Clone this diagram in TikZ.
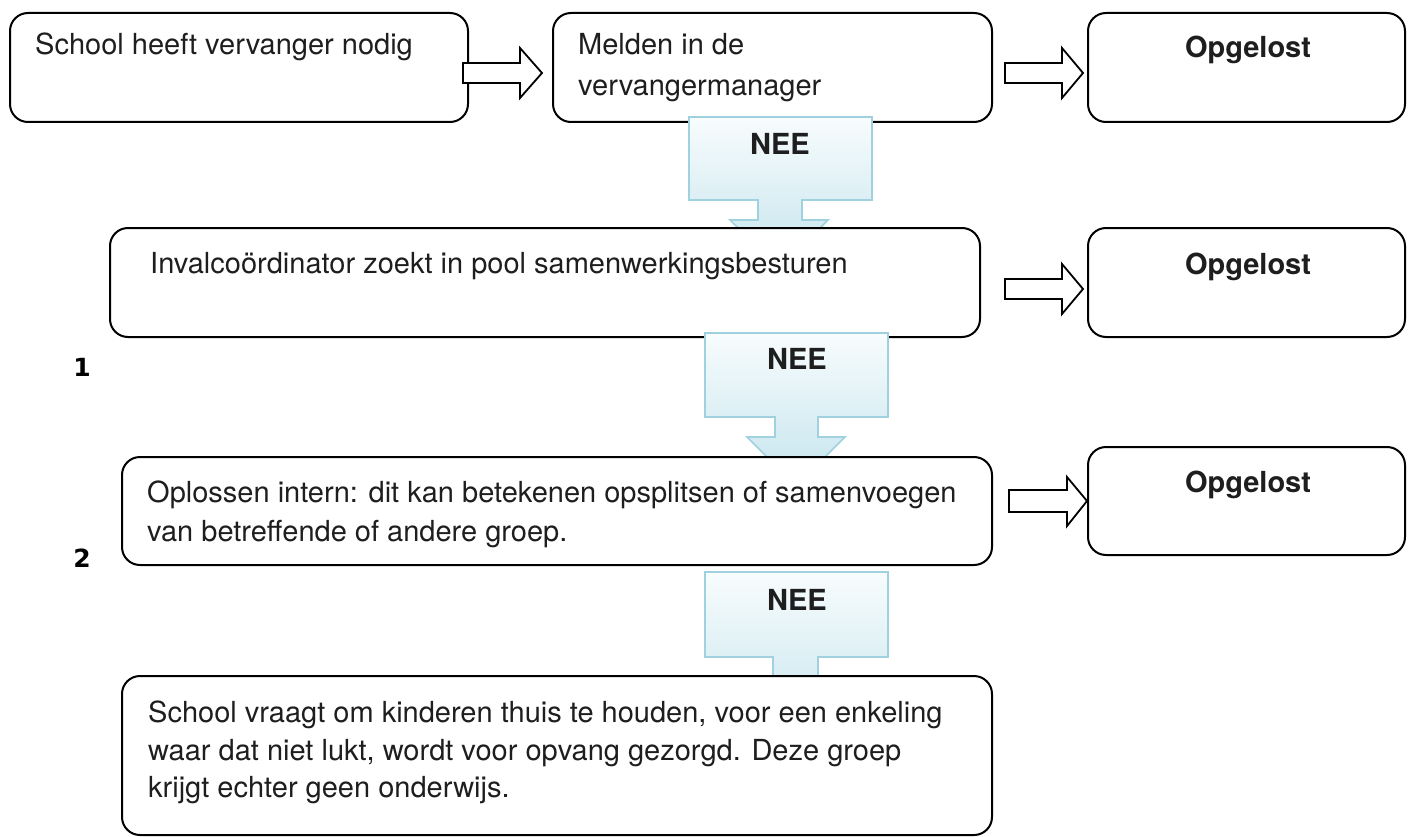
\documentclass[tikz,border=0pt]{standalone}
\usepackage{fontspec}
\setmainfont{TeX Gyre Heros}
\newfontfamily\numfont{DejaVu Sans}
\usetikzlibrary{shapes.arrows}
\definecolor{txtc}{HTML}{1E1E1E}
\definecolor{calloutedge}{HTML}{9FD2DE}
\definecolor{callouttop}{HTML}{F8FCFD}
\definecolor{calloutbot}{HTML}{C4E4ED}
\begin{document}
\begin{tikzpicture}[x=1pt,y=-1pt,
  box/.style={draw=black, line width=2pt, rounded corners=18pt, fill=white, inner sep=0pt},
  t/.style={font=\fontsize{29}{39}\selectfont, text=txtc, anchor=base west, inner sep=0pt},
  tb/.style={font=\fontsize{29}{39}\selectfont\bfseries, text=txtc, anchor=base, inner sep=0pt},
  num/.style={font=\numfont\fontsize{25}{28}\selectfont\bfseries, text=black, anchor=base, inner sep=0pt},
  harrow/.style={draw=black, line width=1.8pt, fill=white},
  callout/.style={draw=calloutedge, line width=1.6pt, top color=callouttop, bottom color=calloutbot}
]
\useasboundingbox (0,0) rectangle (1415,837);

% row 1
\node[box, minimum width=458, minimum height=109] (b1) at (239,67.5) {};
\node[box, minimum width=439, minimum height=109] (b2) at (772.5,67.5) {};
\node[box, minimum width=317, minimum height=109] (o1) at (1246.5,67.5) {};
\node[t] (t1) at (35,55) {School heeft vervanger nodig};
\node[t] (t2a) at (578,55) {Melden in de};
\node[t] (t2b) at (578,96) {vervangermanager};
\node[tb] (ot1) at (1248,58) {Opgelost};
\draw[harrow] (463,63) -- (520,63) -- (520,48) -- (542,73) -- (520,98) -- (520,83) -- (463,83) -- cycle;
\draw[harrow] (1005,63) -- (1062,63) -- (1062,48) -- (1083,73) -- (1062,98) -- (1062,83) -- (1005,83) -- cycle;

% callout 1
\path[callout] (689,117) -- (872,117) -- (872,200) -- (802,200) -- (802,220) -- (828,220) -- (780,269) -- (730,220) -- (758,220) -- (758,200) -- (689,200) -- cycle;
\node[tb] (nee1) at (780,155) {NEE};

% row 2
\node[box, minimum width=870, minimum height=109] (b3) at (545,282.5) {};
\node[box, minimum width=317, minimum height=109] (o2) at (1246.5,282.5) {};
\node[t] (t3) at (150,273) {Invalcoördinator zoekt in pool samenwerkingsbesturen};
\node[tb] (ot2) at (1248,274) {Opgelost};
\draw[harrow] (1005,279) -- (1062,279) -- (1062,264) -- (1083,289) -- (1062,314) -- (1062,299) -- (1005,299) -- cycle;

% callout 2
\path[callout] (705,333) -- (888,333) -- (888,417) -- (818,417) -- (818,437) -- (845,437) -- (796,486) -- (747,437) -- (775,437) -- (775,417) -- (705,417) -- cycle;
\node[tb] (nee2) at (797,369) {NEE};

% row 3
\node[box, minimum width=870, minimum height=108] (b4) at (557,511) {};
\node[box, minimum width=317, minimum height=108] (o3) at (1246.5,501) {};
\node[t] (t4a) at (147,502) {Oplossen intern: dit kan betekenen opsplitsen of samenvoegen};
\node[t] (t4b) at (147,541) {van betreffende of andere groep.};
\node[tb] (ot3) at (1248,492) {Opgelost};
\draw[harrow] (1009,490) -- (1067,490) -- (1067,477) -- (1087,501) -- (1067,526) -- (1067,512) -- (1009,512) -- cycle;

% callout 3
\path[callout] (705,572) -- (888,572) -- (888,657) -- (818,657) -- (818,690) -- (845,690) -- (796,739) -- (747,690) -- (773,690) -- (773,657) -- (705,657) -- cycle;
\node[tb] (nee3) at (797,610) {NEE};

% row 4
\node[box, minimum width=870, minimum height=159] (b5) at (557,755.5) {};
\node[t] (t5a) at (148,722) {School vraagt om kinderen thuis te houden, voor een enkeling};
\node[t] (t5b) at (148,760) {waar dat niet lukt, wordt voor opvang gezorgd. Deze groep};
\node[t] (t5c) at (148,797) {krijgt echter geen onderwijs.};

% side numbers
\node[num] (n1) at (82,376) {1};
\node[num] (n2) at (82,567) {2};
\end{tikzpicture}
\end{document}
